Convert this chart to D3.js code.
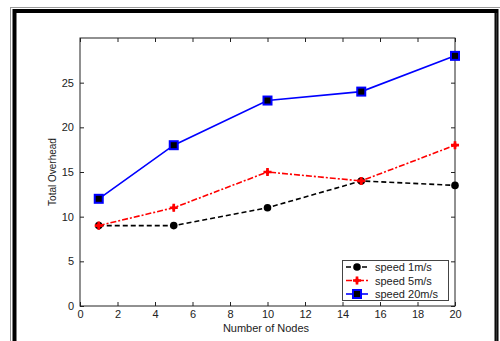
<!DOCTYPE html>
<html>
<head>
<meta charset="utf-8">
<script src="https://cdn.jsdelivr.net/npm/d3@7"></script>
<style>
  body { margin: 0; background: #fff; }
  text { font-family: "Liberation Sans", Arial, sans-serif; fill: #222; }
</style>
</head>
<body>
<svg id="chart" width="500" height="341"></svg>
<script>
var nodes = [1, 5, 10, 15, 20];
var speed1 = [9, 9, 11, 14, 13.5];
var speed5 = [9, 11, 15, 14, 18];
var speed20 = [12, 18, 23, 24, 28];
var xTicks = [0, 2, 4, 6, 8, 10, 12, 14, 16, 18, 20];
var yTicks = [0, 5, 10, 15, 20, 25];
var seriesNames = ["speed 1m/s", "speed 5m/s", "speed 20m/s"];

var svg = d3.select("#chart");

// outer frame
svg.append("rect").attr("x", 10.5).attr("y", 7.5).attr("width", 500).attr("height", 340)
  .attr("fill", "none").attr("stroke", "#999").attr("stroke-width", 1);
svg.append("rect").attr("x", 14.5).attr("y", 11).attr("width", 482).attr("height", 340)
  .attr("fill", "none").attr("stroke", "#000").attr("stroke-width", 4);
svg.append("line").attr("x1", 496.5).attr("x2", 496.5).attr("y1", 13).attr("y2", 341)
  .attr("stroke", "#333").attr("stroke-width", 1.5);

var pLeft = 80, pRight = 455, pTop = 38, pBottom = 306;
var x = d3.scaleLinear().domain([0, 20]).range([pLeft, pRight]);
var y = d3.scaleLinear().domain([0, 30]).range([pBottom, pTop]);

// box
svg.append("rect").attr("x", pLeft).attr("y", pTop).attr("width", pRight - pLeft).attr("height", pBottom - pTop)
  .attr("fill", "none").attr("stroke", "#222").attr("stroke-width", 1);

var tickLen = 4;
svg.append("g").attr("transform", "translate(0," + pBottom + ")")
  .call(d3.axisBottom(x).tickValues(xTicks).tickSizeInner(-tickLen).tickSizeOuter(0).tickPadding(4))
  .call(g => g.select(".domain").remove());
svg.append("g").attr("transform", "translate(0," + pTop + ")")
  .call(d3.axisTop(x).tickValues(xTicks).tickSizeInner(-tickLen).tickSizeOuter(0).tickFormat(""))
  .call(g => g.select(".domain").remove());
svg.append("g").attr("transform", "translate(" + pLeft + ",0)")
  .call(d3.axisLeft(y).tickValues(yTicks).tickSizeInner(-tickLen).tickSizeOuter(0).tickPadding(6))
  .call(g => g.select(".domain").remove());
svg.append("g").attr("transform", "translate(" + pRight + ",0)")
  .call(d3.axisRight(y).tickValues(yTicks).tickSizeInner(-tickLen).tickSizeOuter(0).tickFormat(""))
  .call(g => g.select(".domain").remove());
svg.selectAll(".tick line").attr("stroke", "#222");
svg.selectAll(".tick text").attr("font-size", 11).attr("fill", "#222")
  .attr("font-family", "Liberation Sans, Arial, sans-serif");

svg.append("text").attr("x", 266).attr("y", 332).attr("text-anchor", "middle")
  .attr("font-size", 11).text("Number of Nodes");
svg.append("text").attr("transform", "translate(56," + ((pTop + pBottom) / 2) + ") rotate(-90)")
  .attr("text-anchor", "middle").attr("font-size", 10).text("Total Overhead");

var line = d3.line().x(d => x(d[0])).y(d => y(d[1]));
var series = [
  { vals: speed1, color: "#000", dash: "5,3", marker: "circle" },
  { vals: speed5, color: "#f00", dash: "6,2,2,2", marker: "cross" },
  { vals: speed20, color: "#00f", dash: null, marker: "square" }
];

function drawMarker(g, type, cx, cy) {
  if (type === "circle") {
    g.append("circle").attr("cx", cx).attr("cy", cy).attr("r", 3.8).attr("fill", "#000");
  } else if (type === "cross") {
    g.append("path").attr("d", d3.symbol().type(d3.symbolCross).size(36)())
      .attr("transform", "translate(" + cx + "," + cy + ")").attr("fill", "#f00");
    g.append("path").attr("d", d3.symbol().type(d3.symbolDiamond).size(18)())
      .attr("transform", "translate(" + cx + "," + cy + ")").attr("fill", "#f00");
  } else {
    g.append("rect").attr("x", cx - 4).attr("y", cy - 4).attr("width", 8).attr("height", 8)
      .attr("fill", "#000").attr("stroke", "#00f").attr("stroke-width", 2);
  }
}

series.forEach(function (s) {
  var pts = nodes.map((n, i) => [n, s.vals[i]]);
  svg.append("path").datum(pts).attr("d", line).attr("fill", "none")
    .attr("stroke", s.color).attr("stroke-width", 1.6).attr("stroke-dasharray", s.dash);
  var g = svg.append("g");
  pts.forEach(p => drawMarker(g, s.marker, x(p[0]), y(p[1])));
});

// legend
var lg = svg.append("g");
lg.append("rect").attr("x", 342.5).attr("y", 260.5).attr("width", 106).attr("height", 40)
  .attr("fill", "#fff").attr("stroke", "#444").attr("stroke-width", 1);
series.forEach(function (s, i) {
  var ly = 267 + i * 13.5;
  lg.append("line").attr("x1", 346).attr("x2", 368).attr("y1", ly).attr("y2", ly)
    .attr("stroke", s.color).attr("stroke-width", 1.6).attr("stroke-dasharray", s.dash);
  drawMarker(lg, s.marker, 357, ly);
  lg.append("text").attr("x", 375).attr("y", ly + 4).attr("font-size", 11).text(seriesNames[i]);
});
</script>
</body>
</html>
